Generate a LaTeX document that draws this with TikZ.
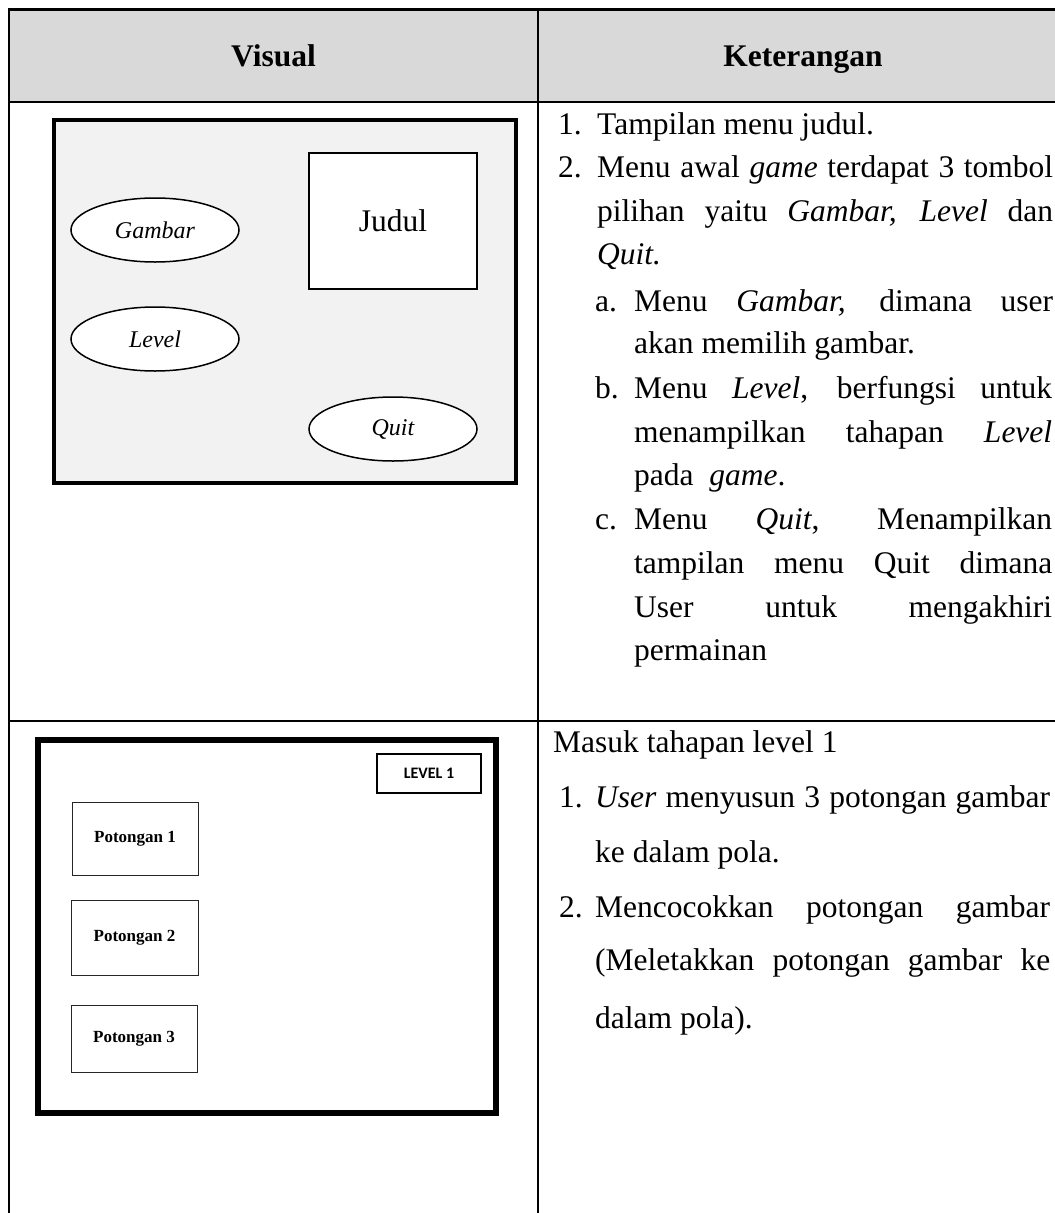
\documentclass[tikz,border=0pt]{standalone}
\usepackage{fontspec}
\setmainfont{Liberation Serif}
\newfontfamily\calibrifont{Carlito}
\usetikzlibrary{shapes.geometric}
\definecolor{headgray}{HTML}{D9D9D9}
\definecolor{panelgray}{HTML}{F2F2F2}
% justified line of a given width (in pt)
\newcommand{\jl}[2]{\makebox[#1pt][s]{#2}}

\begin{document}
\begin{tikzpicture}[x=1pt,y=-1pt,
  rule/.style={line width=2.4pt},
  body/.style={anchor=base west, inner sep=0pt, font=\fontsize{31.5}{38}\selectfont},
  headtext/.style={anchor=base, inner sep=0pt, font=\fontsize{31.5}{38}\selectfont\bfseries},
  button/.style={ellipse, draw, line width=1.5pt, fill=white, minimum width=168pt,
    minimum height=64pt, inner sep=0pt, font=\fontsize{24}{28}\selectfont\itshape},
  piece/.style={draw=black!85, line width=1pt, fill=white, inner sep=0pt,
    font=\fontsize{17}{20}\selectfont\bfseries},
]
\useasboundingbox (0,0) rectangle (1055,1213);
\fill[white] (0,0) rectangle (1055,1213);

% table frame
\begin{scope}
\clip (0,0) rectangle (1055,1213);
\fill[headgray] (9,9.5) rectangle (1070,102);
\draw[rule] (7.8,9.5) -- (1070,9.5);
\draw[rule] (9,102) -- (1070,102);
\draw[rule] (9,721) -- (1070,721);
\draw[rule] (9,8.3) -- (9,1220);
\draw[rule] (538,8.3) -- (538,1220);
\end{scope}

% header
\node[headtext] (hvis) at (273.5,66) {Visual};
\node[headtext] (hket) at (803,66) {Keterangan};

% title menu mock-up
\node[draw, line width=3.5pt, fill=panelgray, minimum width=462pt, minimum height=363pt,
  inner sep=0pt] (menu) at (285,301.5) {};
\node[draw, line width=1.5pt, fill=white, minimum width=168pt, minimum height=136pt,
  inner sep=0pt, font=\fontsize{31.5}{38}\selectfont] (judul) at (393,221) {Judul};
\node[button] (gambar) at (155,230) {Gambar};
\node[button] (level) at (155,339) {Level};
\node[button] (quit) at (393,429) {Quit};

% level 1 mock-up
\node[draw, line width=6pt, fill=white, minimum width=458pt, minimum height=373pt,
  inner sep=0pt] (stage) at (267,926.5) {};
\node[draw, line width=1.2pt, minimum width=104pt, minimum height=39pt, inner sep=0pt,
  font=\calibrifont\bfseries\fontsize{16}{19}\selectfont] (lvl) at (429,773.5) {LEVEL 1};
\node[piece, minimum width=126pt, minimum height=73pt] (p1) at (135,838.5) {Potongan 1};
\node[piece, minimum width=127pt, minimum height=75pt] (p2) at (134.5,937.5) {Potongan 2};
\node[piece, minimum width=126pt, minimum height=67pt] (p3) at (134,1039) {Potongan 3};

% description, first row
\node[body] (n1) at (558,134) {1.};
\node[body] (l1) at (597,134) {Tampilan menu judul.};
\node[body] (n2) at (558,177) {2.};
\node[body] (l2) at (597,177) {\jl{456}{Menu awal \textit{game} terdapat 3 tombol}};
\node[body] (l3) at (597,221) {\jl{456}{pilihan yaitu \textit{Gambar,} \textit{Level} dan}};
\node[body] (l4) at (597,264) {\textit{Quit.}};
\node[body] (na) at (595,311) {a.};
\node[body] (la1) at (634,311) {\jl{419}{Menu \textit{Gambar,} dimana user}};
\node[body] (la2) at (634,353) {akan memilih gambar.};
\node[body] (nb) at (595,398) {b.};
\node[body] (lb1) at (634,398) {\jl{418}{Menu \textit{Level}, berfungsi untuk}};
\node[body] (lb2) at (634,442) {\jl{418}{menampilkan tahapan \textit{Level}}};
\node[body] (lb3) at (634,485) {pada\hspace{0.5em}\textit{game}.};
\node[body] (nc) at (595,529) {c.};
\node[body] (lc1) at (634,529) {\jl{418}{Menu \textit{Quit}, Menampilkan}};
\node[body] (lc2) at (634,573) {\jl{418}{tampilan menu Quit dimana}};
\node[body] (lc3) at (634,617) {\jl{418}{User untuk mengakhiri}};
\node[body] (lc4) at (634,660) {permainan};

% description, second row
\node[body] (m0) at (553,752) {Masuk tahapan level 1};
\node[body] (m1n) at (559,807) {1.};
\node[body] (m1a) at (595,807) {\jl{455}{\textit{User} menyusun 3 potongan gambar}};
\node[body] (m1b) at (595,862) {ke dalam pola.};
\node[body] (m2n) at (559,917) {2.};
\node[body] (m2a) at (595,917) {\jl{455}{Mencocokkan potongan gambar}};
\node[body] (m2b) at (595,970) {\jl{455}{(Meletakkan potongan gambar ke}};
\node[body] (m2c) at (595,1028) {dalam pola).};
\end{tikzpicture}
\end{document}
